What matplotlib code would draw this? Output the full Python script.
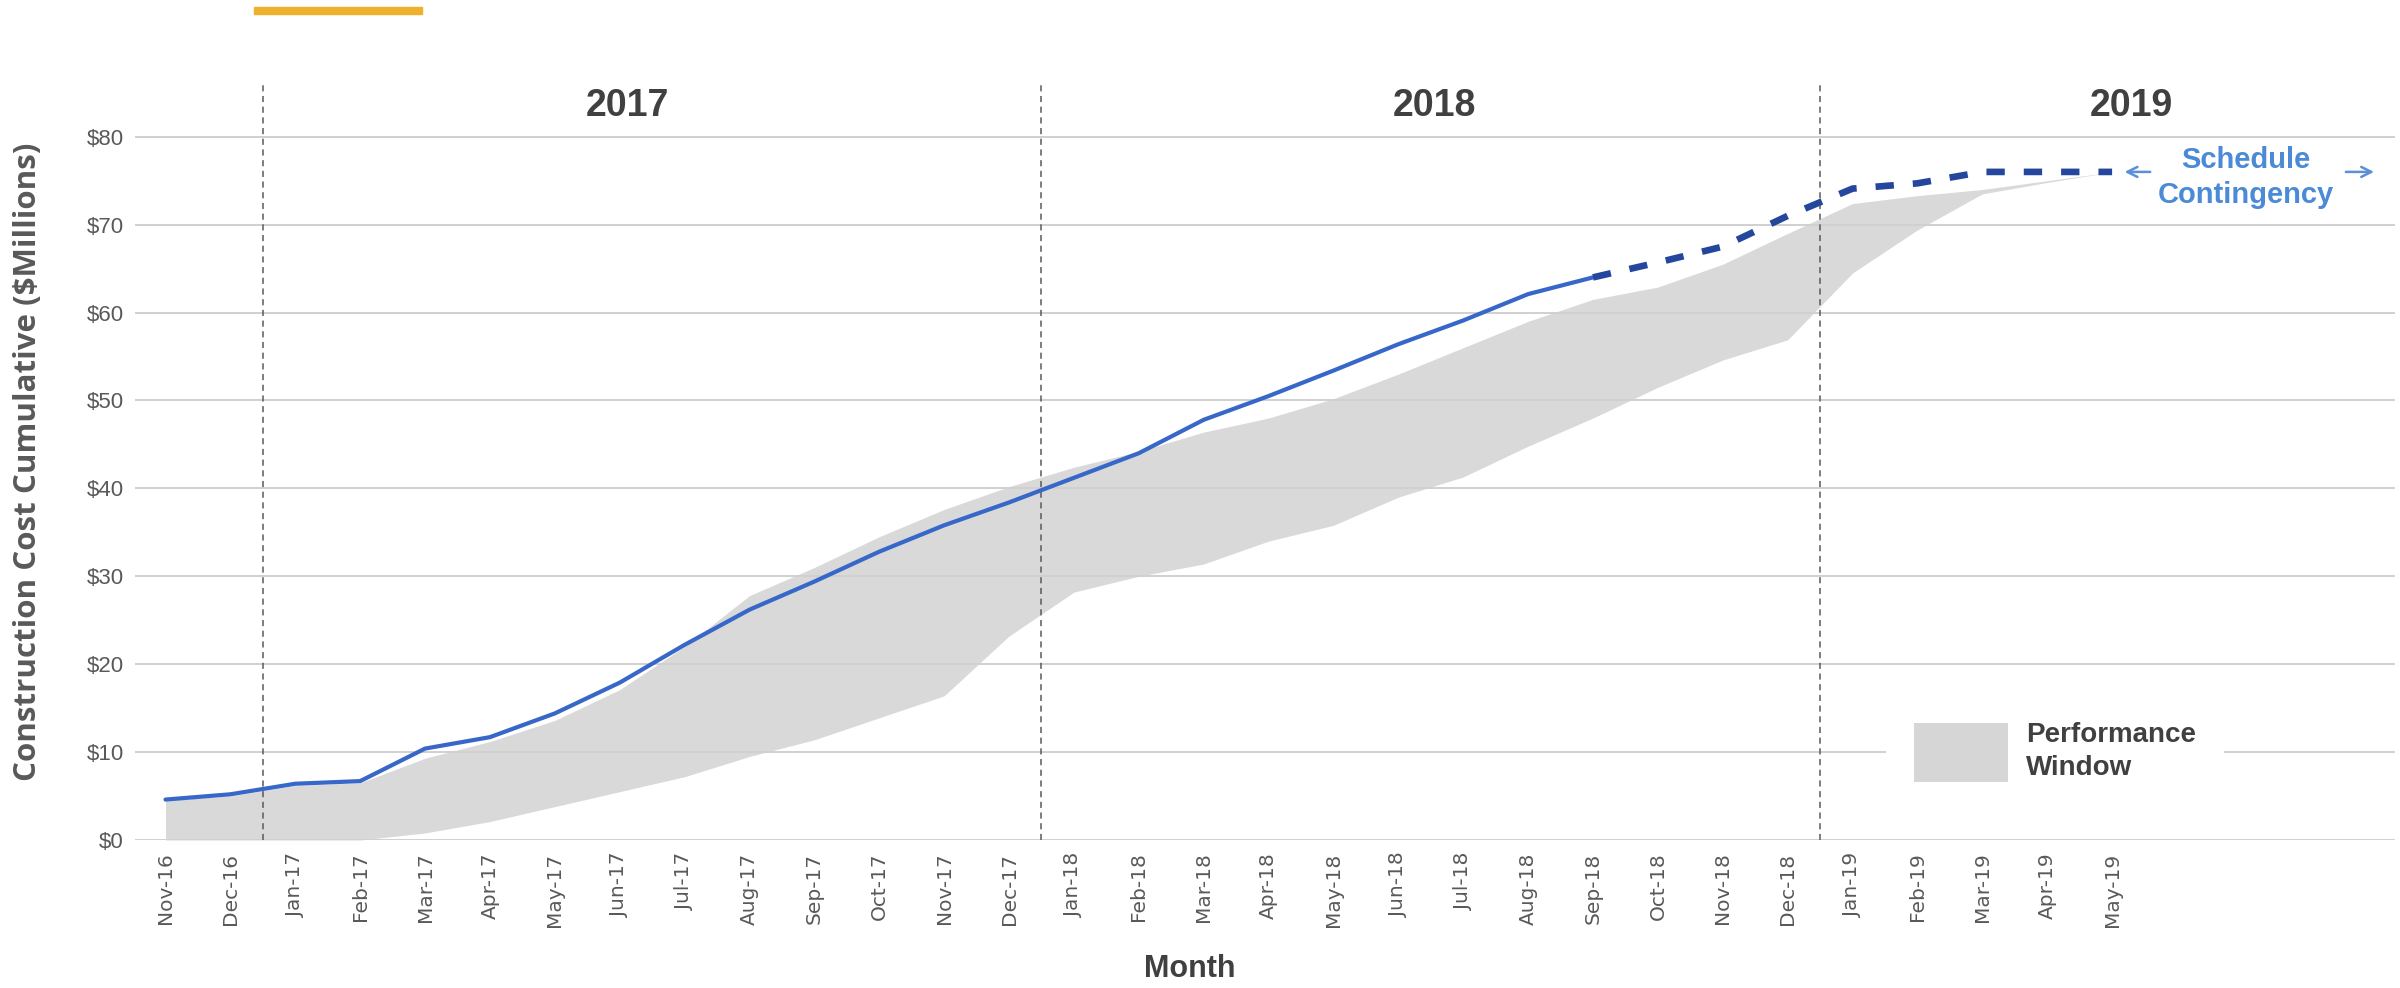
import matplotlib
matplotlib.use("Agg")
import matplotlib.pyplot as plt
from matplotlib.patches import Patch, Rectangle

months = ['Nov-16', 'Dec-16', 'Jan-17', 'Feb-17', 'Mar-17', 'Apr-17', 'May-17', 'Jun-17',
          'Jul-17', 'Aug-17', 'Sep-17', 'Oct-17', 'Nov-17', 'Dec-17', 'Jan-18', 'Feb-18',
          'Mar-18', 'Apr-18', 'May-18', 'Jun-18', 'Jul-18', 'Aug-18', 'Sep-18', 'Oct-18',
          'Nov-18', 'Dec-18', 'Jan-19', 'Feb-19', 'Mar-19', 'Apr-19', 'May-19']

# actual cumulative cost, Nov-16 .. Sep-18
actual = [4.6, 5.2, 6.4, 6.7, 10.4, 11.7, 14.4, 17.9, 22.2, 26.2, 29.4, 32.8, 35.8, 38.4,
          41.2, 44.0, 47.8, 50.5, 53.4, 56.4, 59.1, 62.1, 64.0]
# forecast, Sep-18 .. May-19
forecast = [64.0, 65.7, 67.5, 71.0, 74.1, 74.7, 76.0, 76.0, 76.0]

# performance window, Nov-16 .. May-19
window_upper = [4.5, 5.0, 6.2, 6.5, 9.3, 11.2, 13.6, 17.1, 22.0, 27.8, 31.0, 34.5, 37.6, 40.2,
                42.4, 44.2, 46.4, 48.0, 50.2, 53.0, 56.0, 59.0, 61.5, 62.9, 65.5, 69.0,
                72.4, 73.3, 74.0, 75.0, 76.0]
window_lower = [0.0, 0.0, 0.0, 0.0, 0.8, 2.1, 3.8, 5.5, 7.2, 9.5, 11.4, 13.9, 16.4, 23.2,
                28.2, 30.0, 31.4, 34.0, 35.8, 39.0, 41.3, 44.8, 48.0, 51.5, 54.6, 56.9,
                64.5, 69.4, 73.5, 74.8, 76.0]

year_names = ['2017', '2018', '2019']
year_label_x = [7.12, 19.55, 30.3]
year_breaks = [1.5, 13.5, 25.5]

W, H = 2400, 988
fig = plt.figure(figsize=(W / 100, H / 100), dpi=100)
ax = fig.add_axes([135 / W, 1 - 840 / H, (2395 - 135) / W, (840 - 84) / H])

x = list(range(len(months)))
ax.fill_between(x, window_lower, window_upper, color='#D9D9D9', lw=0, zorder=1)

n_act = len(actual)
ax.plot(x[:n_act], actual, color='#3767C8', lw=3.0, solid_capstyle='round', zorder=4)
ax.plot(x[n_act - 1:], forecast, color='#24469C', lw=4.8, dashes=(2.75, 2.85), zorder=4)

for xb in year_breaks:
    ax.axvline(xb, color='#5A5A5A', lw=1.1, ls=(0, (4, 3)), zorder=3)
for name, xl in zip(year_names, year_label_x):
    ax.text(xl, 83.5, name, ha='center', va='center', fontsize=27, fontweight='bold',
            color='#404040', family='Liberation Sans')

ax.set_xlim(-0.47, 34.36)
ax.set_ylim(0, 86)
ax.set_xticks(x)
ax.set_xticklabels(months, rotation=90, fontsize=14.5, color='#595959', family='DejaVu Sans')
ax.set_yticks(range(0, 81, 10))
ax.set_yticklabels(['$%d' % v for v in range(0, 81, 10)], fontsize=16, color='#595959',
                   family=['Liberation Sans Narrow', 'Liberation Sans'])
ax.tick_params(axis='both', length=0)
ax.tick_params(axis='x', pad=9)
ax.tick_params(axis='y', pad=8)
ax.grid(axis='y', color='#D0D0D0', lw=1.4)
ax.set_axisbelow(False)
for s in ax.spines.values():
    s.set_visible(False)

# schedule contingency note
blue = '#4A8AD6'
ax.text(32.06, 76.4, 'Schedule', ha='center', va='baseline', fontsize=21, fontweight='bold',
        color=blue, family='Liberation Sans')
ax.text(32.06, 72.5, 'Contingency', ha='center', va='baseline', fontsize=21, fontweight='bold',
        color=blue, family='Liberation Sans')
arrow = dict(arrowstyle='->', color='#5B8FD6', lw=1.8, mutation_scale=18)
ax.annotate('', xy=(30.15, 76.0), xytext=(30.63, 76.0), arrowprops=arrow)
ax.annotate('', xy=(34.08, 76.0), xytext=(33.56, 76.0), arrowprops=arrow)

leg = ax.legend(handles=[Patch(facecolor='#D6D6D6', edgecolor='none', label='Performance\nWindow')],
                loc='center left', bbox_to_anchor=(1886 / W, 1 - 752 / H),
                bbox_transform=fig.transFigure, borderaxespad=0, borderpad=1.0,
                handlelength=3.4, handleheight=2.9, handletextpad=0.65,
                frameon=True, facecolor='white', edgecolor='none', framealpha=1,
                prop={'family': 'Liberation Sans', 'weight': 'bold', 'size': 20})
leg.get_frame().set_boxstyle('square', pad=0)
for t in leg.get_texts():
    t.set_color('#404040')
    t.set_linespacing(1.35)

fig.text(28 / W, 1 - 462 / H, 'Construction Cost Cumulative ($Millions)', rotation=90,
         ha='center', va='center', fontsize=22.5, fontweight='bold', color='#595959',
         family='Open Sans')
fig.text(1190 / W, 1 - 969 / H, 'Month', ha='center', va='center', fontsize=22,
         fontweight='bold', color='#404040', family='Liberation Sans')

fig.patches.append(Rectangle((254 / W, 1 - 14 / H), (422 - 254) / W, 7 / H,
                             transform=fig.transFigure, color='#EFB12B'))

fig.savefig('out.png', dpi=100, facecolor='white')
